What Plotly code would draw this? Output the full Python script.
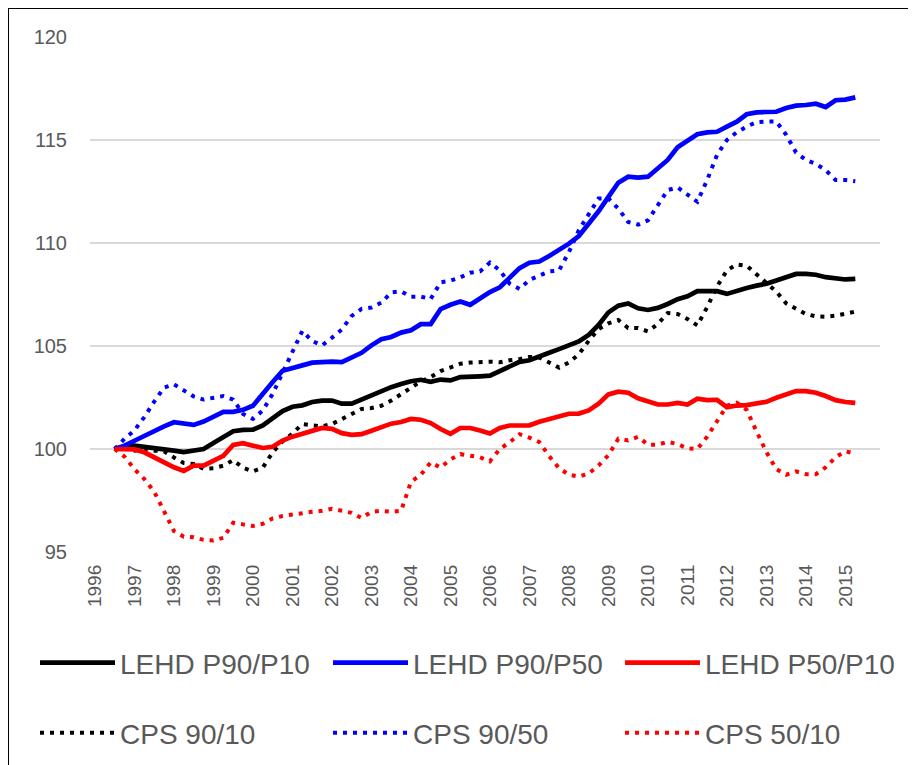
import plotly.graph_objects as go

# Quarterly observations, 1996Q3 .. 2015Q2 (index = 100 at start)
start_year, start_q, n_obs = 1996, 3, 76
quarters = []
y, q = start_year, start_q
for _ in range(n_obs):
    quarters.append((y, q))
    q += 1
    if q > 4:
        q, y = 1, y + 1
x_pos = [yy + (qq - 1) / 4 for yy, qq in quarters]

year_ticks = list(range(1996, 2016))
year_labels = [str(v) for v in year_ticks]

lehd_90_10 = [100.0, 100.13, 100.16, 100.11, 100.05, 99.98, 99.92, 99.85, 99.95, 100.0,
              100.29, 100.57, 100.86, 100.93, 100.94, 101.14, 101.46, 101.84, 102.05, 102.12,
              102.28, 102.35, 102.35, 102.2, 102.2, 102.4, 102.64, 102.84, 103.0, 103.16,
              103.29, 103.36, 103.26, 103.37, 103.33, 103.49, 103.49, 103.53, 103.56, 103.79,
              104.03, 104.23, 104.31, 104.47, 104.67, 104.85, 105.04, 105.22, 105.54, 106.02,
              106.63, 106.96, 107.07, 106.83, 106.75, 106.85, 107.04, 107.27, 107.41, 107.66,
              107.66, 107.66, 107.53, 107.69, 107.82, 107.93, 108.02, 108.18, 108.37, 108.5,
              108.5, 108.46, 108.34, 108.31, 108.23, 108.26]

lehd_90_50 = [100.0, 100.16, 100.4, 100.65, 100.9, 101.1, 101.3, 101.25, 101.17, 101.33,
              101.55, 101.8, 101.8, 101.9, 102.1, 102.7, 103.25, 103.8, 103.95, 104.06,
              104.19, 104.22, 104.24, 104.22, 104.43, 104.67, 105.03, 105.33, 105.44, 105.65,
              105.76, 106.06, 106.06, 106.79, 107.0, 107.16, 107.0, 107.3, 107.62, 107.85,
              108.34, 108.78, 109.04, 109.1, 109.37, 109.64, 109.97, 110.34, 110.91, 111.54,
              112.24, 112.93, 113.22, 113.17, 113.22, 113.63, 114.03, 114.65, 114.98, 115.28,
              115.37, 115.4, 115.65, 115.89, 116.25, 116.34, 116.36, 116.37, 116.55, 116.67,
              116.7, 116.76, 116.6, 116.93, 116.96, 117.07]

lehd_50_10 = [100.0, 100.0, 99.98, 99.84, 99.59, 99.35, 99.11, 98.94, 99.19, 99.19,
              99.46, 99.67, 100.2, 100.28, 100.16, 100.05, 100.11, 100.41, 100.6, 100.74,
              100.92, 101.02, 100.98, 100.77, 100.69, 100.72, 100.89, 101.05, 101.23, 101.31,
              101.46, 101.42, 101.26, 100.97, 100.74, 101.02, 101.02, 100.9, 100.75, 101.02,
              101.14, 101.14, 101.15, 101.32, 101.46, 101.59, 101.71, 101.72, 101.87, 102.2,
              102.65, 102.78, 102.73, 102.46, 102.28, 102.16, 102.16, 102.24, 102.16, 102.44,
              102.37, 102.39, 102.03, 102.11, 102.13, 102.2, 102.29, 102.49, 102.68, 102.81,
              102.81, 102.73, 102.57, 102.37, 102.28, 102.24]

cps_90_10 = [100.0, 100.08, 99.92, 100.0, 99.92, 99.89, 99.59, 99.32, 99.27, 99.04,
             99.07, 99.19, 99.46, 99.09, 98.91, 99.1, 99.84, 100.37, 100.75, 101.21,
             101.15, 101.1, 101.21, 101.46, 101.67, 101.94, 101.99, 102.1, 102.35, 102.64,
             102.97, 103.29, 103.49, 103.78, 103.98, 104.14, 104.2, 104.24, 104.24, 104.21,
             104.31, 104.36, 104.47, 104.44, 104.2, 103.95, 104.2, 104.6, 105.25, 105.82,
             106.1, 106.26, 105.87, 105.87, 105.71, 106.07, 106.6, 106.55, 106.31, 106.0,
             106.89, 107.89, 108.67, 108.96, 108.9, 108.47, 108.02, 107.64, 107.07, 106.8,
             106.55, 106.44, 106.42, 106.47, 106.59, 106.67]

cps_90_50 = [100.0, 100.5, 100.9, 101.55, 102.3, 102.98, 103.14, 102.85, 102.55, 102.4,
             102.5, 102.57, 102.4, 101.7, 101.46, 101.87, 102.68, 103.66, 104.7, 105.73,
             105.24, 105.03, 105.4, 105.8, 106.46, 106.8, 106.87, 107.1, 107.6, 107.65,
             107.39, 107.4, 107.28, 108.09, 108.17, 108.33, 108.56, 108.62, 109.05, 108.67,
             108.02, 107.77, 108.21, 108.42, 108.62, 108.67, 109.56, 110.62, 111.43, 112.16,
             112.16, 111.67, 111.02, 110.89, 111.1, 111.84, 112.57, 112.7, 112.33, 112.0,
             113.06, 114.28, 115.0, 115.38, 115.65, 115.87, 115.9, 115.9, 115.25, 114.39,
             114.03, 113.84, 113.54, 113.06, 113.06, 113.0]

cps_50_10 = [100.0, 99.63, 99.02, 98.54, 97.93, 97.0, 96.02, 95.74, 95.72, 95.59,
             95.56, 95.69, 96.42, 96.34, 96.26, 96.37, 96.63, 96.75, 96.83, 96.9,
             96.95, 97.0, 97.1, 97.0, 96.9, 96.65, 96.95, 97.0, 96.95, 97.0,
             98.4, 98.75, 99.35, 99.1, 99.5, 99.75, 99.68, 99.6, 99.4, 100.0,
             100.33, 100.72, 100.55, 100.34, 99.65, 99.07, 98.75, 98.66, 98.81, 99.2,
             99.7, 100.5, 100.42, 100.59, 100.21, 100.21, 100.35, 100.24, 100.03, 100.0,
             100.6, 101.35, 102.1, 102.25, 101.9, 100.85, 99.85, 99.02, 98.75, 98.91,
             98.78, 98.78, 99.11, 99.6, 99.89, 99.77]

series_names = ["LEHD P90/P10", "LEHD P90/P50", "LEHD P50/P10",
                "CPS 90/10", "CPS 90/50", "CPS 50/10"]
series_values = [lehd_90_10, lehd_90_50, lehd_50_10, cps_90_10, cps_90_50, cps_50_10]
series_colors = ["#000000", "#0000FF", "#FF0000", "#000000", "#0000FF", "#FF0000"]
series_dash = ["solid", "solid", "solid", "4px,6px", "4px,6px", "4px,6px"]
series_width = [4.7, 4.7, 4.7, 4, 4, 4]

FONT = "Liberation Sans, Arial, sans-serif"
GREY = "#595959"

# The page body has an 8px default margin; size the figure to fit the window.
OFF = 8
W, H = 916 - OFF, 765 - OFF
# desired plot area in window pixels: x 90..880, y 37..552
L, T = 90 - OFF, 37 - OFF
R, B = W - (880 - OFF), H - (552 - OFF)
PW, PH = W - L - R, H - T - B

def px_x(px):
    return (px - OFF - L) / PW

def px_y(py):
    return (H - B - (py - OFF)) / PH

fig = go.Figure()
legend_ids = ["legend", "legend2", "legend3", "legend4", "legend5", "legend6"]
# draw order: dotted first, then solid
order = [3, 4, 5, 0, 1, 2]
for i in order:
    fig.add_trace(go.Scatter(
        x=x_pos, y=series_values[i], mode="lines", name=series_names[i],
        line=dict(color=series_colors[i], width=series_width[i], dash=series_dash[i]),
        legend=legend_ids[i], hoverinfo="x+y+name",
    ))

col_px = [35, 328, 620]
row_py = [663, 733]
legend_layouts = {}
for i, lid in enumerate(legend_ids):
    c, r = i % 3, i // 3
    legend_layouts[lid] = dict(
        x=px_x(col_px[c]), y=px_y(row_py[r]), xanchor="left", yanchor="middle",
        font=dict(family=FONT, size=28, color=GREY), bgcolor="rgba(0,0,0,0)",
        itemwidth=75, borderwidth=0,
    )

fig.update_layout(
    width=W, height=H,
    margin=dict(l=L, r=R, t=T, b=B, autoexpand=False),
    paper_bgcolor="white", plot_bgcolor="white",
    showlegend=True,
    xaxis=dict(
        range=[1995.875, 2015.875], tickmode="array", tickvals=year_ticks,
        ticktext=year_labels, tickangle=-90, showgrid=False, zeroline=False,
        showline=False, ticks="", ticklabelstandoff=8,
        tickfont=dict(family=FONT, size=19, color=GREY), fixedrange=True,
    ),
    yaxis=dict(
        range=[95, 120], tick0=95, dtick=5, showgrid=True, gridcolor="#D9D9D9",
        gridwidth=1.5, zeroline=False, showline=False, ticks="",
        ticklabelstandoff=22, tickfont=dict(family=FONT, size=20, color=GREY),
        fixedrange=True,
    ),
    shapes=[dict(type="rect", xref="paper", yref="paper",
                 x0=px_x(8), x1=px_x(912), y0=px_y(780), y1=px_y(8),
                 line=dict(color="black", width=2), fillcolor="rgba(0,0,0,0)",
                 layer="above")],
    **legend_layouts,
)

fig.write_html("out.html")
